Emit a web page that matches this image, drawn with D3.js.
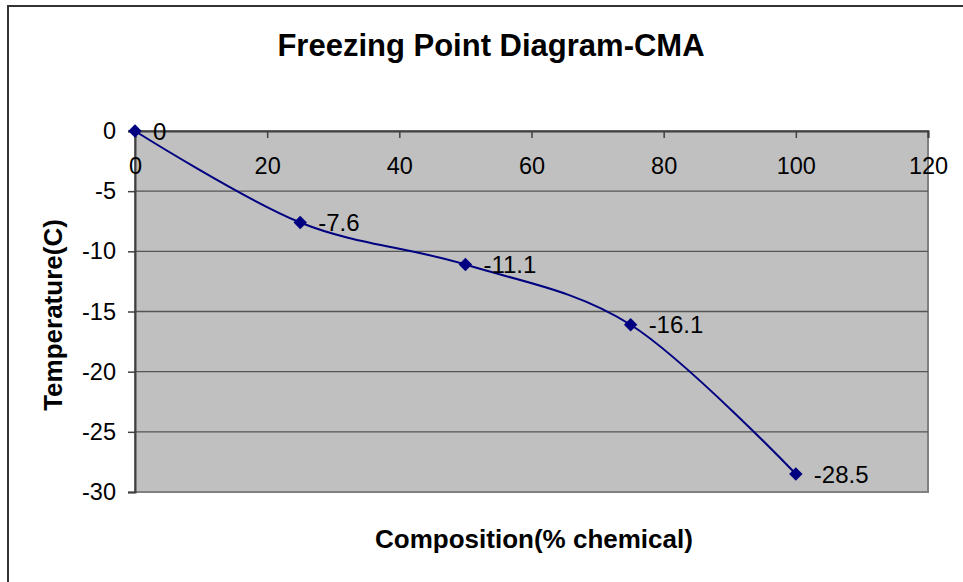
<!DOCTYPE html>
<html>
<head>
<meta charset="utf-8">
<script src="https://cdn.jsdelivr.net/npm/d3@7"></script>
<style>
  body { margin: 0; background: #fff; }
  text { font-family: "Liberation Sans", Arial, sans-serif; }
</style>
</head>
<body>
<script>
const composition = [0, 25, 50, 75, 100];
const temperature = [0, -7.6, -11.1, -16.1, -28.5];
const xTicks = [0, 20, 40, 60, 80, 100, 120];
const yTicks = [0, -5, -10, -15, -20, -25, -30];

let appendSVG = (width, height) => {
    return d3.select('body')
        .append("svg")
        .attr("width", width)
        .attr("height", height)
}

let main = () => {
    const svgWidth = 963;
    const svgHeight = 582;
    const plot = {left: 135, top: 131, right: 928, bottom: 492};
    const svg = appendSVG(svgWidth, svgHeight);

    // outer frame (right and bottom edges fall off the picture)
    svg.append("rect")
        .attr("x", 8).attr("y", 6)
        .attr("width", 1000).attr("height", 1000)
        .attr("fill", "#fff")
        .attr("stroke", "#333")
        .attr("stroke-width", 2)

    const x = d3.scaleLinear().domain([0, 120]).range([plot.left, plot.right]);
    const y = d3.scaleLinear().domain([-30, 0]).range([plot.bottom, plot.top]);

    // plot area
    svg.append("rect")
        .attr("x", plot.left).attr("y", plot.top)
        .attr("width", plot.right - plot.left)
        .attr("height", plot.bottom - plot.top)
        .attr("fill", "#c0c0c0")
        .attr("stroke", "#808080")
        .attr("stroke-width", 2)

    // gridlines
    svg.append("g")
        .selectAll("line")
        .data(yTicks.filter(d => d !== 0 && d !== -30))
        .enter()
        .append("line")
        .attr("x1", plot.left).attr("x2", plot.right)
        .attr("y1", d => y(d)).attr("y2", d => y(d))
        .attr("stroke", "#555")
        .attr("stroke-width", 1.3)

    const plain = d => String(d);   // keep ascii hyphen like the original

    // y axis
    const yAxis = svg.append("g")
        .attr("transform", `translate(${plot.left},0)`)
        .call(d3.axisLeft(y).tickValues(yTicks).tickSize(7).tickPadding(12).tickFormat(plain))
    yAxis.select(".domain").attr("stroke", "#404040").attr("stroke-width", 2)
    yAxis.selectAll(".tick line").attr("stroke", "#404040").attr("stroke-width", 1.5)
    yAxis.selectAll(".tick text")
        .attr("font-size", 23.5)
        .attr("font-family", "Liberation Sans, Arial, sans-serif")
        .attr("fill", "#000")

    // x axis along y = 0 with ticks pointing into the plot
    const xAxis = svg.append("g")
        .attr("transform", `translate(0,${y(0)})`)
        .call(d3.axisBottom(x).tickValues(xTicks).tickSize(7).tickPadding(19).tickFormat(plain))
    xAxis.select(".domain").attr("stroke", "#404040").attr("stroke-width", 2)
    xAxis.selectAll(".tick line").attr("stroke", "#404040").attr("stroke-width", 1.5)
    xAxis.selectAll(".tick text")
        .attr("font-size", 23.5)
        .attr("font-family", "Liberation Sans, Arial, sans-serif")
        .attr("fill", "#000")

    const data = composition.map((c, i) => ({c, t: temperature[i]}));

    // smoothed line
    const line = d3.line()
        .x(d => x(d.c))
        .y(d => y(d.t))
        .curve(d3.curveCatmullRom.alpha(0));
    svg.append("path")
        .datum(data)
        .attr("d", line)
        .attr("fill", "none")
        .attr("stroke", "#000080")
        .attr("stroke-width", 2)

    // diamond markers
    svg.append("g")
        .selectAll("path")
        .data(data)
        .enter()
        .append("path")
        .attr("d", d3.symbol(d3.symbolSquare, 90))
        .attr("transform", d => `translate(${x(d.c)},${y(d.t)}) rotate(45)`)
        .attr("fill", "#000080")

    // data labels
    svg.append("g")
        .selectAll("text")
        .data(data)
        .enter()
        .append("text")
        .attr("x", d => x(d.c) + 18)
        .attr("y", d => y(d.t))
        .attr("dy", "0.36em")
        .attr("font-size", 24)
        .text(d => d.t)

    // titles
    svg.append("text")
        .attr("x", 491).attr("y", 56)
        .attr("text-anchor", "middle")
        .attr("font-size", 31)
        .attr("font-weight", "bold")
        .text("Freezing Point Diagram-CMA")

    svg.append("text")
        .attr("x", 534).attr("y", 548)
        .attr("text-anchor", "middle")
        .attr("font-size", 26)
        .attr("font-weight", "bold")
        .text("Composition(% chemical)")

    svg.append("text")
        .attr("transform", `translate(62,315) rotate(-90)`)
        .attr("text-anchor", "middle")
        .attr("font-size", 26)
        .attr("font-weight", "bold")
        .text("Temperature(C)")
}

main()
</script>
</body>
</html>
